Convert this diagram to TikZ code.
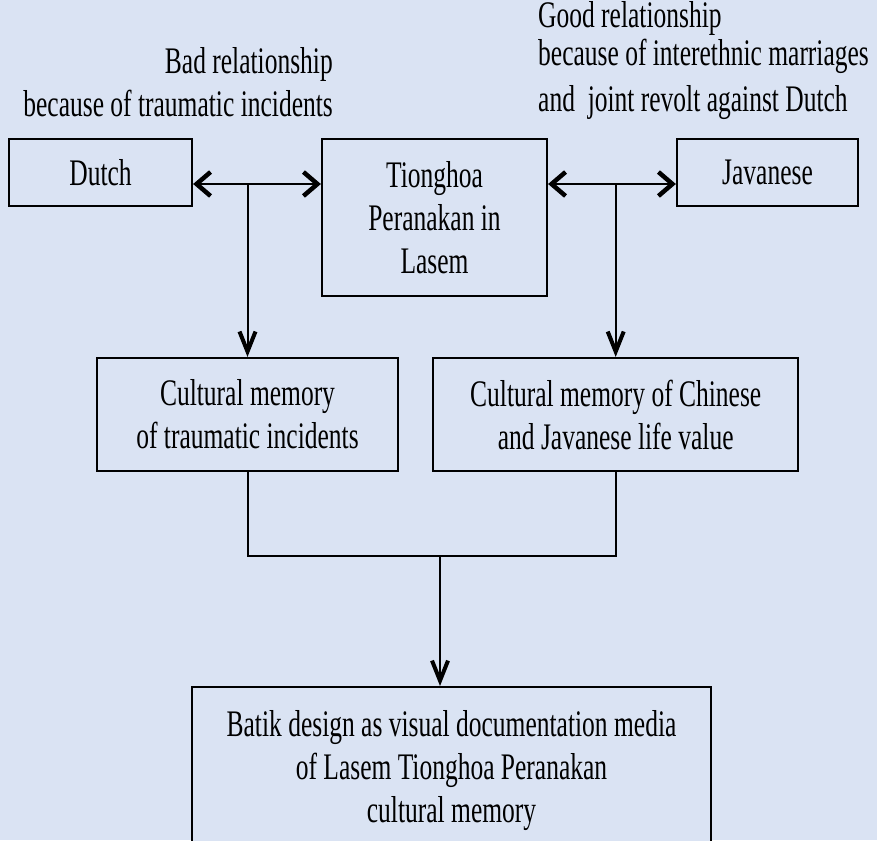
\documentclass[tikz,border=0pt]{standalone}
\usepackage{fontspec}
\setmainfont[FakeStretch=0.68]{Liberation Serif}
\usetikzlibrary{arrows.meta, positioning}
\definecolor{bgblue}{RGB}{218,227,243}
\tikzstyle{block} = [rectangle, draw, line width=2.2pt, fill=bgblue,
    align=center, inner sep=0pt]
\tikzstyle{line} = [draw, line width=2pt]
\tikzstyle{arrow} = [line, -{Straight Barb[length=20pt, width=16pt, line width=4pt]}]
\tikzstyle{twoway} = [line, {Straight Barb[length=14pt, width=24pt, line width=4.5pt]}-{Straight Barb[length=14pt, width=24pt, line width=4.5pt]}]
\tikzstyle{note} = [inner sep=0pt]

\begin{document}
\begin{tikzpicture}[x=1pt, y=-1pt, font=\fontsize{37.5}{43}\selectfont]
        \useasboundingbox (0,0) rectangle (877,840);
        \fill [bgblue] (0,0) rectangle (877,840);
        \clip (0,0) rectangle (877,840);

        % Nodes
        \node [block, minimum width=183pt, minimum height=67pt] (dutch) at (100.5,172.5) {Dutch};
        \node [block, minimum width=225pt, minimum height=157pt] (tiong) at (434.5,217.5) {Tionghoa\\Peranakan in\\Lasem};
        \node [block, minimum width=181pt, minimum height=67pt] (java) at (767.5,172.5) {Javanese};
        \node [block, minimum width=301pt, minimum height=113pt] (memtrauma) at (247.5,414.5) {Cultural memory\\of traumatic incidents};
        \node [block, minimum width=365pt, minimum height=113pt, right=33pt of memtrauma] (memvalue) {Cultural memory of Chinese\\and Javanese life value};
        \node [block, minimum width=519pt, minimum height=167pt, anchor=north] (batik) at (451.5,686) {Batik design as visual documentation media\\of Lasem Tionghoa Peranakan\\cultural memory};

        % Labels
        \node [note, anchor=base east, align=right] (badrel) at (333,117) {Bad relationship\\because of traumatic incidents};
        \node [note, anchor=base west, align=left] (goodrel) at (538,111) {Good relationship\\[-6pt]because of interethnic marriages\\[3pt]and~ joint revolt against Dutch};

        % Lines
        \coordinate (row) at (0,184);
        \coordinate (merge) at (440,556);
        \path [twoway] (dutch.east |- row) -- (tiong.west |- row);
        \path [twoway] (tiong.east |- row) -- (java.west |- row);
        \path [arrow] (memtrauma.north |- row) -- (memtrauma.north);
        \path [arrow] (memvalue.north |- row) -- (memvalue.north);
        \path [line] (memtrauma.south) |- (merge) -| (memvalue.south);
        \path [arrow] (merge) -- (merge |- batik.north);
    \end{tikzpicture}
\end{document}
